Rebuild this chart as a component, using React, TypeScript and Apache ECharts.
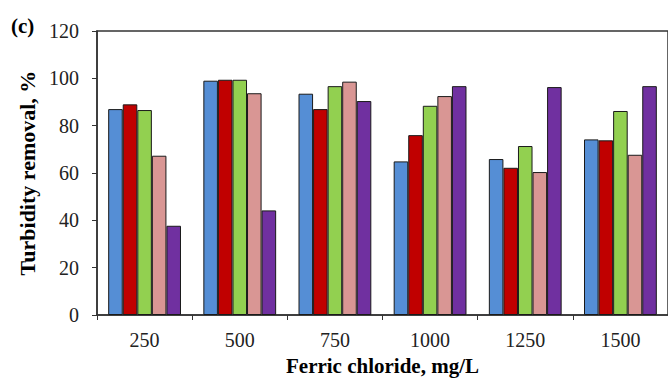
import React, { useEffect, useRef } from "react";
import * as echarts from "echarts";

const categories = ["250", "500", "750", "1000", "1250", "1500"];
const seriesA = [87.0, 99.0, 93.5, 64.9, 65.9, 74.2];
const seriesB = [89.0, 99.4, 87.0, 76.0, 62.2, 73.8];
const seriesC = [86.6, 99.4, 96.7, 88.4, 71.4, 86.2];
const seriesD = [67.3, 93.7, 98.6, 92.5, 60.4, 67.7];
const seriesE = [37.7, 44.2, 90.4, 96.7, 96.3, 96.7];
const colors = ["#558ED5", "#C00000", "#92D050", "#D99694", "#7030A0"];

const FONT = "'Liberation Serif', 'Times New Roman', serif";

export default function App() {
  const ref = useRef<HTMLDivElement>(null);
  useEffect(() => {
    if (!ref.current) return;
    const chart = echarts.init(ref.current, undefined, { renderer: "svg" });
    const all = [seriesA, seriesB, seriesC, seriesD, seriesE];
    chart.setOption({
      animation: false,
      backgroundColor: "#ffffff",
      textStyle: { fontFamily: FONT },
      grid: {
        left: 97,
        top: 31,
        width: 580,
        height: 284,
        show: true,
        borderColor: "#333333",
        borderWidth: 1.5,
        backgroundColor: "transparent",
      },
      graphic: [
        {
          type: "text",
          left: 11,
          top: 15,
          style: {
            text: "(c)",
            fontFamily: FONT,
            fontWeight: "bold",
            fontSize: 21,
            fill: "#000",
          },
        },
      ],
      xAxis: {
        type: "category",
        data: categories,
        name: "Ferric chloride, mg/L",
        nameLocation: "middle",
        nameGap: 40,
        nameTextStyle: {
          fontFamily: FONT,
          fontWeight: "bold",
          fontSize: 21,
          color: "#000",
        },
        axisLine: { lineStyle: { color: "#333333", width: 1.5 } },
        axisTick: { show: true, length: 5, lineStyle: { color: "#333333" } },
        axisLabel: { fontFamily: FONT, fontSize: 20, color: "#222", margin: 15 },
      },
      yAxis: {
        type: "value",
        min: 0,
        max: 120,
        interval: 20,
        name: "Turbidity removal, %",
        nameLocation: "middle",
        nameGap: 54,
        nameTextStyle: {
          fontFamily: FONT,
          fontWeight: "bold",
          fontSize: 22,
          color: "#000",
        },
        axisLine: { show: true, lineStyle: { color: "#333333", width: 1.5 } },
        axisTick: { show: true, length: 5, lineStyle: { color: "#333333" } },
        splitLine: { show: false },
        axisLabel: { fontFamily: FONT, fontSize: 20, color: "#222", margin: 18 },
      },
      series: all.map((d, i) => ({
        type: "bar",
        data: d,
        barGap: "0%",
        barCategoryGap: "23.5%",
        itemStyle: { color: colors[i], borderColor: "#1a1a1a", borderWidth: 1 },
      })),
    });
    return () => chart.dispose();
  }, []);
  return (
    <div
      ref={ref}
      style={{ position: "fixed", left: 0, top: 0, width: 668, height: 383 }}
    />
  );
}
